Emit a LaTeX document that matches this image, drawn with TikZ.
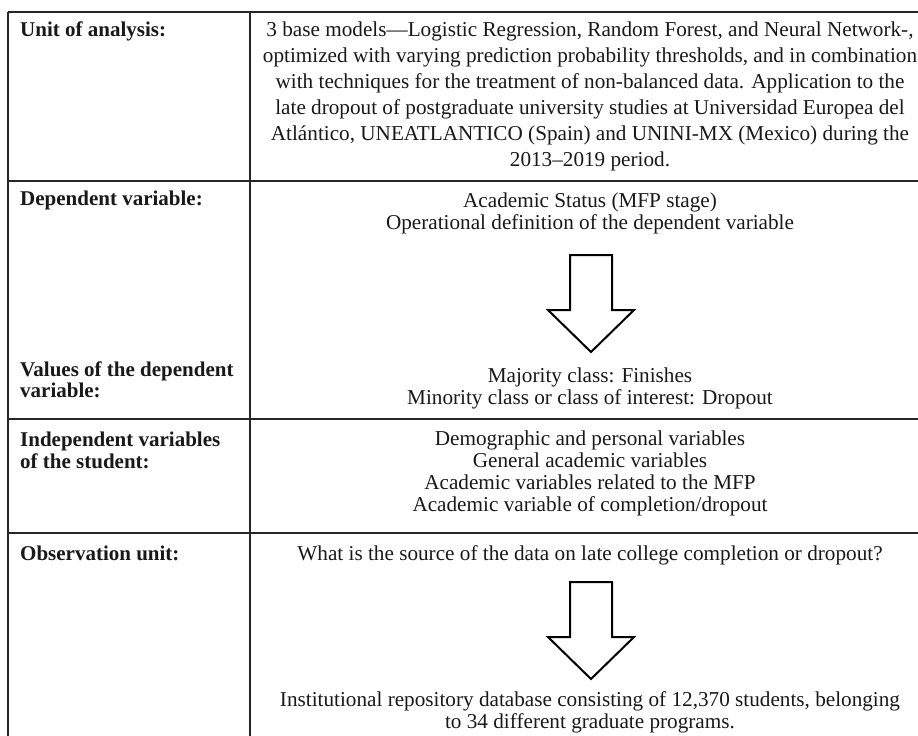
\documentclass[tikz,border=0pt]{standalone}
\usepackage{fontspec}
\setmainfont{Liberation Serif}
\begin{document}
\begin{tikzpicture}[x=1pt,y=-1pt,
  lab/.style={anchor=base west, font=\fontsize{21}{22}\selectfont\bfseries, inner sep=0pt, text=black!90},
  txt/.style={anchor=base, font=\fontsize{21.2}{22}\selectfont, inner sep=0pt, text=black!90},
  gridline/.style={line width=1.4pt, draw=black!85},
  bigarrow/.style={line width=2pt, draw=black, fill=white, line join=miter},
  pics/downarrow/.style={code={
    \draw[bigarrow] (-21,0) -- (21,0) -- (21,55) -- (43,55) -- (0,97) -- (-43,55) -- (-21,55) -- cycle;}}]
\useasboundingbox (0,0) rectangle (918,736);
\clip (0,0) rectangle (918,736);
\fill[white] (0,0) rectangle (918,736);
% grid
\coordinate (tl) at (8,12);
\coordinate (tr) at (935,12);
\coordinate (bl) at (8,745);
\coordinate (ct) at (250,12);
\coordinate (cb) at (250,745);
\draw[gridline] (tl) -- (tr);
\draw[gridline] (tl) -- (bl);
\draw[gridline] (ct) -- (cb);
\draw[gridline] (8,181) -- (935,181);
\draw[gridline] (8,419) -- (935,419);
\draw[gridline] (8,533) -- (935,533);
% row 1
\node[lab] (l1) at (20,36) {Unit of analysis:};
\node[txt] (r1a) at (590,36) {3 base models—Logistic Regression, Random Forest, and Neural Network-,};
\node[txt] (r1b) at (590,62) {optimized with varying prediction probability thresholds, and in combination};
\node[txt] (r1c) at (590,88) {with techniques for the treatment of non-balanced data. Application to the};
\node[txt] (r1d) at (590,114) {late dropout of postgraduate university studies at Universidad Europea del};
\node[txt] (r1e) at (590,140) {Atlántico, UNEATLANTICO (Spain) and UNINI-MX (Mexico) during the};
\node[txt] (r1f) at (590,166) {2013–2019 period.};
% row 2
\node[lab] (l2a) at (20,205) {Dependent variable:};
\node[lab] (l2b) at (20,376) {Values of the dependent};
\node[lab] (l2c) at (20,397) {variable:};
\node[txt] (r2a) at (590,207) {Academic Status (MFP stage)};
\node[txt] (r2b) at (590,229) {Operational definition of the dependent variable};
\pic at (591,255) {downarrow};
\node[txt] (r2c) at (590,382) {Majority class: Finishes};
\node[txt] (r2d) at (590,404) {Minority class or class of interest: Dropout};
% row 3
\node[lab] (l3a) at (20,446) {Independent variables};
\node[lab] (l3b) at (20,468) {of the student:};
\node[txt] (r3a) at (590,445) {Demographic and personal variables};
\node[txt] (r3b) at (590,467) {General academic variables};
\node[txt] (r3c) at (590,489) {Academic variables related to the MFP};
\node[txt] (r3d) at (590,511) {Academic variable of completion/dropout};
% row 4
\node[lab] (l4) at (20,560) {Observation unit:};
\node[txt] (r4a) at (590,560) {What is the source of the data on late college completion or dropout?};
\pic at (591,582) {downarrow};
\node[txt] (r4b) at (590,706) {Institutional repository database consisting of 12,370 students, belonging};
\node[txt] (r4c) at (590,728) {to 34 different graduate programs.};
\end{tikzpicture}
\end{document}
